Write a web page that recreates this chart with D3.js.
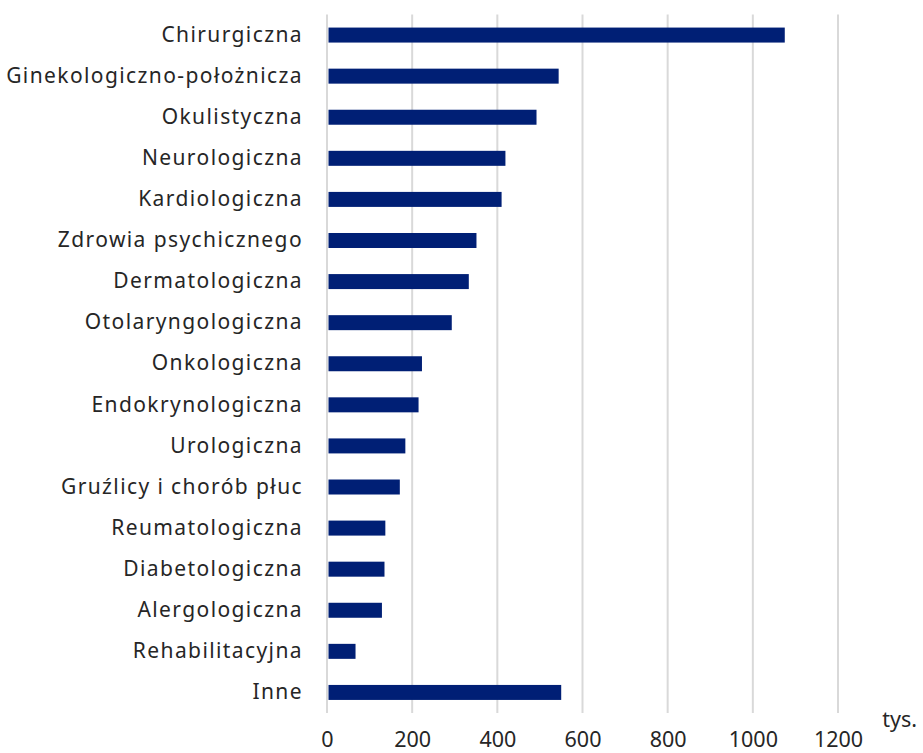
<!DOCTYPE html>
<html><head><meta charset="utf-8">
<script src="https://cdn.jsdelivr.net/npm/d3@7"></script>
<style>body{margin:0;background:#fff}svg{display:block}</style>
</head><body><div id="c"></div>
<script>
const categories = ["Chirurgiczna","Ginekologiczno-położnicza","Okulistyczna","Neurologiczna","Kardiologiczna","Zdrowia psychicznego","Dermatologiczna","Otolaryngologiczna","Onkologiczna","Endokrynologiczna","Urologiczna","Gruźlicy i chorób płuc","Reumatologiczna","Diabetologiczna","Alergologiczna","Rehabilitacyjna","Inne"];
const values = [1075,544,492,419,410,351,333,293,223,215,184,171,137,135,129,67,550];
const ticks = [0,200,400,600,800,1000,1200];
const unitLabel = "tys.";

const W=923,H=753;
const m={left:327,right:85,top:14.5,bottom:40};
const svg=d3.select("#c").append("svg").attr("width",W).attr("height",H);
const x=d3.scaleLinear().domain([0,1200]).range([m.left,W-m.right]);
const y=d3.scaleBand().domain(categories).range([m.top,H-m.bottom]).paddingInner(0.635).paddingOuter(0.318);
const font="'Noto Sans', sans-serif";

svg.append("g").selectAll("line").data(ticks).join("line")
 .attr("x1",d=>x(d)).attr("x2",d=>x(d)).attr("y1",m.top).attr("y2",H-m.bottom)
 .attr("stroke","#d9d9d9").attr("stroke-width",2);

svg.append("g").selectAll("rect").data(values).join("rect")
 .attr("x",x(0)+1.5).attr("y",(d,i)=>y(categories[i]))
 .attr("width",d=>x(d)-x(0)-1.5).attr("height",y.bandwidth())
 .attr("fill","#001f75");

const xa=d3.axisBottom(x).tickValues(ticks).tickFormat(d3.format("d")).tickSize(0).tickPadding(0);
const gx=svg.append("g").attr("transform",`translate(0,${H-m.bottom})`).call(xa);
gx.select(".domain").remove();
gx.selectAll("text").attr("font-family",font).attr("font-size",21.5).attr("fill","#262626").attr("dy",0).attr("y",34);

const ya=d3.axisLeft(y).tickSize(0).tickPadding(24);
const gy=svg.append("g").attr("transform",`translate(${m.left},0)`).call(ya);
gy.select(".domain").remove();
gy.selectAll("text").attr("font-family",font).attr("font-size",21).attr("letter-spacing","1.4px").attr("fill","#262626");

svg.append("text").attr("x",917).attr("y",727).attr("text-anchor","end")
 .attr("font-family",font).attr("font-size",21.5).attr("fill","#262626").text(unitLabel);
</script></body></html>
